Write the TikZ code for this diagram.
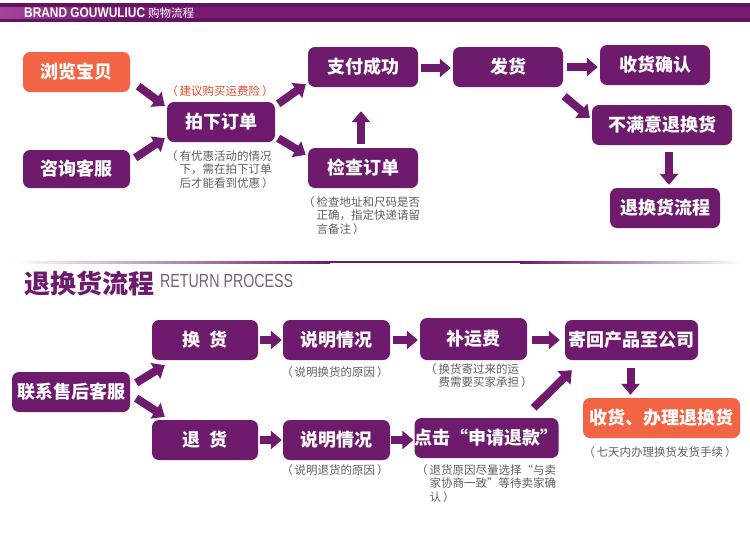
\documentclass[tikz,border=0pt]{standalone}
\usepackage{fontspec}
\setmainfont{Noto Sans CJK SC}
\newfontfamily\lsans{Liberation Sans}
\usetikzlibrary{arrows.meta}
\definecolor{pp}{RGB}{110,27,110}
\definecolor{hdr}{RGB}{120,28,116}
\definecolor{hdrd}{RGB}{98,20,96}
\definecolor{hdrl}{RGB}{175,80,165}
\definecolor{og}{RGB}{242,100,68}
\definecolor{notec}{RGB}{95,95,95}
\definecolor{redn}{RGB}{232,72,40}
\definecolor{retc}{RGB}{125,95,125}
\begin{document}
\begin{tikzpicture}[x=1pt,y=-1pt,
  box/.style={rectangle, rounded corners=7pt, fill=pp, text=white,
    font=\fontsize{18}{20}\selectfont\bfseries, inner sep=0pt},
  obox/.style={box, fill=og},
  fat/.style={draw=pp, line width=8pt, -{Triangle[length=11pt,width=18pt]}},
  notel/.style={text=notec, font=\fontsize{11.5}{13.5}\selectfont, inner sep=0pt, align=left, anchor=north west},
  notec/.style={text=notec, font=\fontsize{11.5}{13.5}\selectfont, inner sep=0pt},
]
\useasboundingbox (0,0) rectangle (750,539);
\fill[white] (0,0) rectangle (750,539);

% header bar
\fill[hdr] (0,3) rectangle (750,22);
\fill[hdrd] (0,3) rectangle (750,7);
\fill[hdrd] (0,18) rectangle (750,22);
\shade[left color=hdrl, right color=hdr, opacity=0.8] (0,7) rectangle (120,18);
\node[anchor=west, text=white, inner sep=0pt] (brand) at (24,13)
  {\scalebox{0.85}[1]{\lsans\bfseries\fontsize{14}{16}\selectfont BRAND GOUWULIUC}\hspace{3pt}{\fontsize{11.5}{13}\selectfont 购物流程}};

% top flow
\node[obox, minimum width=107pt, minimum height=40pt] (browse) at (76.5,72) {浏览宝贝};
\node[box, minimum width=107pt, minimum height=38pt] (consult) at (76.5,169) {咨询客服};
\node[box, minimum width=108pt, minimum height=40pt] (order) at (221,122) {拍下订单};
\node[box, minimum width=110pt, minimum height=40pt] (pay) at (363,67) {支付成功};
\node[box, minimum width=110pt, minimum height=40pt] (ship) at (508,67) {发货};
\node[box, minimum width=110pt, minimum height=40pt] (confirm) at (655,65) {收货确认};
\node[box, minimum width=140pt, minimum height=40pt] (unsat) at (662,125) {不满意退换货};
\node[box, minimum width=110pt, minimum height=40pt] (retflow) at (665,208) {退换货流程};
\node[box, minimum width=110pt, minimum height=40pt] (check) at (363,168) {检查订单};

\node[text=redn, font=\fontsize{11.5}{13.5}\selectfont, inner sep=0pt] (ins) at (220,91) {（\,建议购买运费险\,）};
\node[notel] (ordernote) at (166,150) {（\,有优惠活动的情况\\\hphantom{（\,}下，需在拍下订单\\\hphantom{（\,}后才能看到优惠\,）};
\node[notel] (checknote) at (303,196) {（\,检查地址和尺码是否\\\hphantom{（\,}正确，指定快递请留\\\hphantom{（\,}言备注\,）};

\draw[fat] ([shift={(8,-6)}]browse.south east) -- ([shift={(-2,4)}]order.north west);
\draw[fat] ([shift={(5,8)}]consult.north east) -- ([shift={(-2,-4)}]order.south west);
\draw[fat] ([shift={(3,2)}]order.north east) -- ([shift={(-2,-3)}]pay.south west);
\draw[fat] ([shift={(3,-4)}]order.south east) -- ([shift={(-2,7)}]check.north west);
\draw[fat] ([shift={(-2,-4)}]check.north) -- ([shift={(-2,24)}]pay.south);
\draw[fat] ([shift={(3,1)}]pay.east) -- ([shift={(-2,1)}]ship.west);
\draw[fat] ([shift={(4,0)}]ship.east) -- ([shift={(-2,2)}]confirm.west);
\draw[fat] ([shift={(1,9)}]ship.south east) -- ([shift={(-2,13)}]unsat.north west);
\draw[fat] ([shift={(7,7)}]unsat.south) -- ([shift={(4,-3)}]retflow.north);

% divider
\shade[left color=white, right color=pp] (10,261) rectangle (330,263);
\fill[pp] (329.5,261) rectangle (520.5,263);
\shade[left color=pp, right color=white] (520,261) rectangle (745,263);
\node[anchor=west, text=pp, font=\fontsize{26}{28}\selectfont\bfseries, inner sep=0pt] (sect) at (24,284) {退换货流程};
\node[anchor=base west, text=retc, inner sep=0pt] (retp) at (160,287)
  {\scalebox{0.75}[1]{\lsans\fontsize{19}{21}\selectfont RETURN PROCESS}};

% bottom flow
\node[box, minimum width=118pt, minimum height=40pt] (contact) at (71,392) {联系售后客服};
\node[box, minimum width=106pt, minimum height=40pt] (exch) at (205,340) {换\hspace{0.5em}货};
\node[box, minimum width=106pt, minimum height=40pt] (refund) at (205,440) {退\hspace{0.5em}货};
\node[box, minimum width=107pt, minimum height=40pt] (exp1) at (336.5,340) {说明情况};
\node[box, minimum width=107pt, minimum height=40pt] (exp2) at (336.5,440) {说明情况};
\node[box, minimum width=107pt, minimum height=42pt] (fee) at (473.5,339) {补运费};
\node[box, minimum width=133pt, minimum height=40pt] (sendback) at (631.5,340) {寄回产品至公司};
\node[box, minimum width=143pt, minimum height=40pt] (click) at (486.5,438) {点击“申请退款”};
\node[obox, minimum width=157pt, minimum height=40pt] (recv) at (661.5,418) {收货、办理退换货};

\node[notec] (exp1note) at (335,372) {（\,说明换货的原因\,）};
\node[notec] (exp2note) at (335,470) {（\,说明退货的原因\,）};
\node[notel] (feenote) at (425,363) {（\,换货寄过来的运\\\hphantom{（\,}费需要买家承担\,）};
\node[notec] (recvnote) at (660,452) {（\,七天内办理换货发货手续\,）};
\node[notel] (clicknote) at (416,464) {（\,退货原因尽量选择“与卖\\\hphantom{（\,}家协商一致”等待卖家确\\\hphantom{（\,}认\,）};

\draw[fat] ([shift={(6,11)}]contact.north east) -- ([shift={(13,5)}]exch.south west);
\draw[fat] ([shift={(6,-14)}]contact.south east) -- ([shift={(13,-3)}]refund.north west);
\draw[fat] ([shift={(2,0)}]exch.east) -- ([shift={(-1,0)}]exp1.west);
\draw[fat] ([shift={(2,0)}]refund.east) -- ([shift={(-1,0)}]exp2.west);
\draw[fat] ([shift={(3,0)}]exp1.east) -- ([shift={(-2,1)}]fee.west);
\draw[fat] ([shift={(5,1)}]fee.east) -- ([shift={(-5,0)}]sendback.west);
\draw[fat] ([shift={(1,0)}]exp2.east) -- ([shift={(-1,2)}]click.west);
\draw[fat] ([shift={(-25,-10)}]click.north east) -- ([shift={(7,10)}]sendback.south west);
\draw[fat] ([shift={(-1,8)}]sendback.south) -- ([shift={(-31,-3)}]recv.north);
\end{tikzpicture}
\end{document}
